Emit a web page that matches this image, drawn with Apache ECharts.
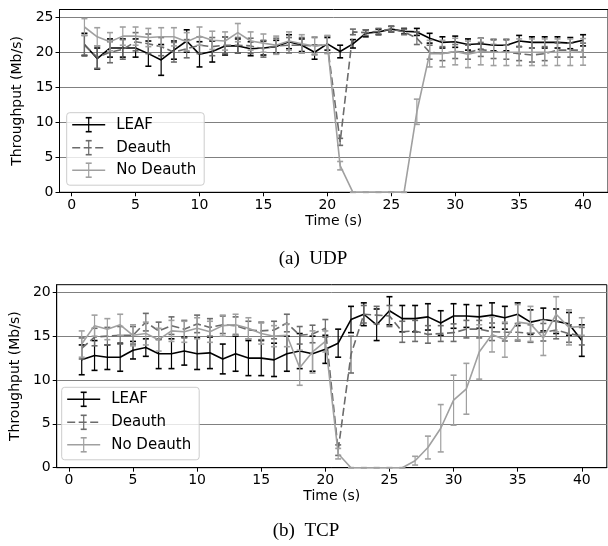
<!DOCTYPE html>
<html><head><meta charset="utf-8">
<script src="https://cdn.jsdelivr.net/npm/echarts@6/dist/echarts.min.js"></script>
<style>html,body{margin:0;padding:0;background:#fff}#c{width:608px;height:546px}</style>
</head><body><div id="c"></div>
<script>
// ---- data ----
const timeS = [1,2,3,4,5,6,7,8,9,10,11,12,13,14,15,16,17,18,19,20,21,22,23,24,25,26,27,28,29,30,31,32,33,34,35,36,37,38,39,40];
const xTicks = [0,5,10,15,20,25,30,35,40];
const udpYTicks = [0,5,10,15,20,25];
const tcpYTicks = [0,5,10,15,20];
const seriesNames = ['LEAF','Deauth','No Deauth'];

const udpLeaf    = [21.1,19.1,20.6,20.6,20.6,19.8,18.9,20.3,21.6,19.7,20.1,20.9,20.9,20.5,20.6,20.8,21.5,21.0,20.0,21.2,20.1,21.2,22.7,22.9,23.3,23.0,22.9,22.0,21.4,21.5,21.1,21.2,21.0,21.0,21.6,21.4,21.4,21.4,21.3,21.7];
const udpLeafErr = [1.6,1.5,1.3,1.3,1.3,1.8,2.2,1.3,1.6,1.8,1.5,1.3,1.0,1.0,1.0,0.9,1.0,0.9,1.0,0.9,0.9,0.6,0.5,0.4,0.4,0.4,0.5,0.7,0.8,0.8,0.8,0.8,0.8,0.8,0.8,0.8,0.8,0.8,0.8,0.8];
const udpDeauth    = [21.0,19.3,20.0,20.4,21.5,21.2,20.8,20.0,20.5,21.0,20.8,21.0,21.0,20.9,20.5,20.9,21.0,21.0,20.9,21.1,7.2,22.9,22.8,23.0,23.3,22.9,22.0,20.0,19.8,20.1,20.0,20.4,20.1,20.0,19.8,19.6,19.8,20.3,20.3,20.3];
const udpDeauthErr = [1.4,1.6,1.5,1.4,1.3,1.4,1.3,1.4,1.3,1.2,1.3,1.2,1.1,1.1,1.2,1.1,1.1,1.1,1.2,1.2,0.5,0.4,0.4,0.4,0.4,0.4,0.9,1.0,1.0,1.0,1.0,1.0,1.0,1.0,1.0,1.0,1.0,1.0,1.0,1.0];
const udpNo    = [23.6,22.2,21.5,22.3,22.3,22.1,22.2,22.2,21.5,22.3,21.7,21.6,22.8,21.6,21.3,21.0,21.6,21.2,20.9,21.1,3.8,0,0,0,0,0,11.5,19.8,19.8,20.1,19.7,20.1,20.0,20.0,20.0,20.0,20.0,20.0,20.0,20.05];
const udpNoErr = [1.2,1.3,1.3,1.3,1.3,1.3,1.3,1.3,1.3,1.3,1.3,1.3,1.3,1.3,1.3,1.3,1.3,1.3,1.3,1.3,0.6,0,0,0,0,0,1.8,1.9,1.9,1.9,1.9,1.9,1.9,1.9,1.9,1.9,1.9,1.9,1.9,1.9];

const tcpLeaf    = [12.3,12.8,12.6,12.6,13.4,13.7,13.0,13.0,13.3,13.0,13.1,12.4,13.0,12.5,12.5,12.3,13.0,13.3,13.0,13.5,14.2,16.9,17.5,16.3,17.9,17.0,17.0,17.2,16.5,17.3,17.3,17.2,17.4,17.1,17.5,16.6,16.9,16.7,16.4,14.5];
const tcpLeafErr = [1.7,1.7,1.4,1.6,1.0,1.0,1.7,1.7,1.6,1.8,1.8,1.7,2.0,2.0,2.0,1.9,2.0,2.0,2.0,1.6,1.6,1.5,1.3,1.8,1.6,1.5,1.5,1.5,1.4,1.4,1.3,1.3,1.4,1.3,1.3,1.4,1.3,1.4,1.3,1.8];
const tcpDeauth    = [13.6,14.9,15.0,15.1,15.1,16.6,15.6,16.2,15.8,16.4,16.0,16.3,16.2,15.7,15.6,15.7,16.5,15.1,15.25,15.9,2.0,12.9,17.5,17.4,17.3,15.5,15.6,15.2,15.3,15.4,15.8,15.8,15.5,15.45,15.45,15.3,15.45,15.7,15.3,15.0];
const tcpDeauthErr = [1.2,1.0,1.0,1.0,1.0,1.0,1.0,1.0,1.0,1.0,1.0,1.0,1.0,1.0,1.0,1.0,1.0,1.0,1.0,1.0,0.6,2.1,1.0,1.0,1.2,1.2,1.2,1.0,0.9,1.0,1.0,1.0,1.0,1.0,1.0,1.0,1.0,1.0,1.0,1.0];
const tcpNo    = [14.1,16.2,15.8,16.3,15.1,15.3,14.6,15.6,15.5,15.9,15.5,16.2,16.3,15.9,15.3,15.0,15.1,11.4,13.2,14.4,1.6,0,0,0,0,0,0.8,2.3,4.5,7.7,9.0,13.2,15.2,14.6,16.6,16.4,14.8,17.5,16.0,16.1];
const tcpNoErr = [1.5,1.2,1.2,1.2,1.2,1.3,1.3,1.2,1.2,1.2,1.2,1.2,1.2,1.2,1.2,1.2,1.3,2.0,2.4,1.2,0.6,0,0,0,0,0,0.5,1.3,2.7,2.85,2.9,3.1,2.0,2.0,2.0,2.0,2.0,2.0,2.0,1.0];

// ---- styling ----
const FONT = 'DejaVu Sans';
const colors = ['#000000', '#6b6b6b', '#a0a0a0'];
const dashes = ['solid', [8, 3.5], 'solid'];

const chart = echarts.init(document.getElementById('c'), null, {renderer: 'canvas'});

function pairs(vals, errs) { return timeS.map((t, i) => [t, vals[i], errs[i]]); }

function errRender(color) {
  return function (params, api) {
    const x = api.value(0), y = api.value(1), e = api.value(2);
    const p1 = api.coord([x, y + e]);
    const p2 = api.coord([x, y - e]);
    const c = 3;
    return {
      type: 'group',
      children: [
        {type: 'line', shape: {x1: p1[0], y1: p1[1], x2: p2[0], y2: p2[1]}, style: {stroke: color, lineWidth: 1.2}},
        {type: 'line', shape: {x1: p1[0] - c, y1: p1[1], x2: p1[0] + c, y2: p1[1]}, style: {stroke: color, lineWidth: 1.6}},
        {type: 'line', shape: {x1: p2[0] - c, y1: p2[1], x2: p2[0] + c, y2: p2[1]}, style: {stroke: color, lineWidth: 1.6}}
      ]
    };
  };
}

function makeSeries(idx, sets) {
  const out = [];
  sets.forEach((s, k) => {
    out.push({
      type: 'line', name: seriesNames[k], xAxisIndex: idx, yAxisIndex: idx,
      data: timeS.map((t, i) => [t, s[0][i]]), showSymbol: false, symbol: 'none',
      lineStyle: {color: colors[k], width: 1.6, type: dashes[k]}, z: 2 + k, animation: false
    });
    out.push({
      type: 'custom', name: seriesNames[k] + ' err', xAxisIndex: idx, yAxisIndex: idx,
      data: pairs(s[0], s[1]), renderItem: errRender(colors[k]), z: 2 + k, animation: false,
      encode: {x: 0, y: 1}, clip: false
    });
  });
  return out;
}

function xAxisDef(idx) {
  return {
    type: 'value', gridIndex: idx, min: -0.95, max: 41.95,
    name: 'Time (s)', nameLocation: 'middle', nameGap: 22,
    nameTextStyle: {fontFamily: FONT, fontSize: 14, color: '#000'},
    axisLine: {show: true, onZero: false, lineStyle: {color: '#000', width: 1}},
    axisTick: {show: true, inside: false, length: 4, customValues: xTicks, lineStyle: {color: '#000', width: 1}},
    axisLabel: {show: true, customValues: xTicks, margin: 6, fontFamily: FONT, fontSize: 14, color: '#000'},
    splitLine: {show: false}
  };
}
function yAxisDef(idx, max, ticks) {
  return {
    type: 'value', gridIndex: idx, min: 0, max: max, interval: 5,
    name: 'Throughput (Mb/s)', nameLocation: 'middle', nameGap: 34, nameRotate: 90,
    nameTextStyle: {fontFamily: FONT, fontSize: 14, color: '#000'},
    axisLine: {show: true, onZero: false, lineStyle: {color: '#000', width: 1}},
    axisTick: {show: true, inside: false, length: 4, customValues: ticks, lineStyle: {color: '#000', width: 1}},
    axisLabel: {show: true, customValues: ticks, margin: 6, fontFamily: FONT, fontSize: 14, color: '#000'},
    splitLine: {show: true, lineStyle: {color: '#808080', width: 1}}
  };
}

function legendGraphics(bx, by) {
  const els = [{
    type: 'rect', shape: {x: bx, y: by, width: 137.5, height: 72.5, r: 3},
    style: {fill: 'rgba(255,255,255,0.8)', stroke: '#cccccc', lineWidth: 1}, z: 100
  }];
  const rows = [12, 35, 57.5];
  seriesNames.forEach((n, k) => {
    const y = by + rows[k];
    const x1 = bx + 5.5, x2 = bx + 38.5, xm = (x1 + x2) / 2;
    els.push({type: 'line', shape: {x1: x1, y1: y, x2: x2, y2: y}, style: {stroke: colors[k], lineWidth: 1.6, lineDash: k === 1 ? [8, 3.5] : null}, z: 101});
    els.push({type: 'line', shape: {x1: xm, y1: y - 7, x2: xm, y2: y + 7}, style: {stroke: colors[k], lineWidth: 1.2}, z: 101});
    els.push({type: 'line', shape: {x1: xm - 3, y1: y - 7, x2: xm + 3, y2: y - 7}, style: {stroke: colors[k], lineWidth: 1.6}, z: 101});
    els.push({type: 'line', shape: {x1: xm - 3, y1: y + 7, x2: xm + 3, y2: y + 7}, style: {stroke: colors[k], lineWidth: 1.6}, z: 101});
    els.push({type: 'text', x: bx + 49.5, y: y, style: {text: n, font: '15px "DejaVu Sans"', fill: '#000', verticalAlign: 'middle', align: 'left'}, z: 101});
  });
  return els;
}

const option = {
  animation: false,
  backgroundColor: '#fff',
  grid: [
    {left: 59.5, top: 9.5, width: 551.3, height: 182.8, show: true, borderColor: '#000', borderWidth: 1, backgroundColor: 'transparent'},
    {left: 54.5, top: 284.7, width: 552.3, height: 183, show: true, borderColor: '#000', borderWidth: 1, backgroundColor: 'transparent'}
  ],
  xAxis: [xAxisDef(0), xAxisDef(1)],
  yAxis: [yAxisDef(0, 26.1, udpYTicks), yAxisDef(1, 20.87, tcpYTicks)],
  series: [].concat(
    makeSeries(0, [[udpLeaf, udpLeafErr], [udpDeauth, udpDeauthErr], [udpNo, udpNoErr]]),
    makeSeries(1, [[tcpLeaf, tcpLeafErr], [tcpDeauth, tcpDeauthErr], [tcpNo, tcpNoErr]])
  ),
  graphic: [].concat(
    legendGraphics(66.7, 112.7),
    legendGraphics(61.7, 387.3),
    [
      {type: 'text', x: 313, y: 259, style: {text: '(a)  UDP', font: '19px "Liberation Serif"', fill: '#000', align: 'center', verticalAlign: 'middle'}},
      {type: 'text', x: 306, y: 531, style: {text: '(b)  TCP', font: '19px "Liberation Serif"', fill: '#000', align: 'center', verticalAlign: 'middle'}}
    ]
  )
};
chart.setOption(option);
</script>
</body></html>
